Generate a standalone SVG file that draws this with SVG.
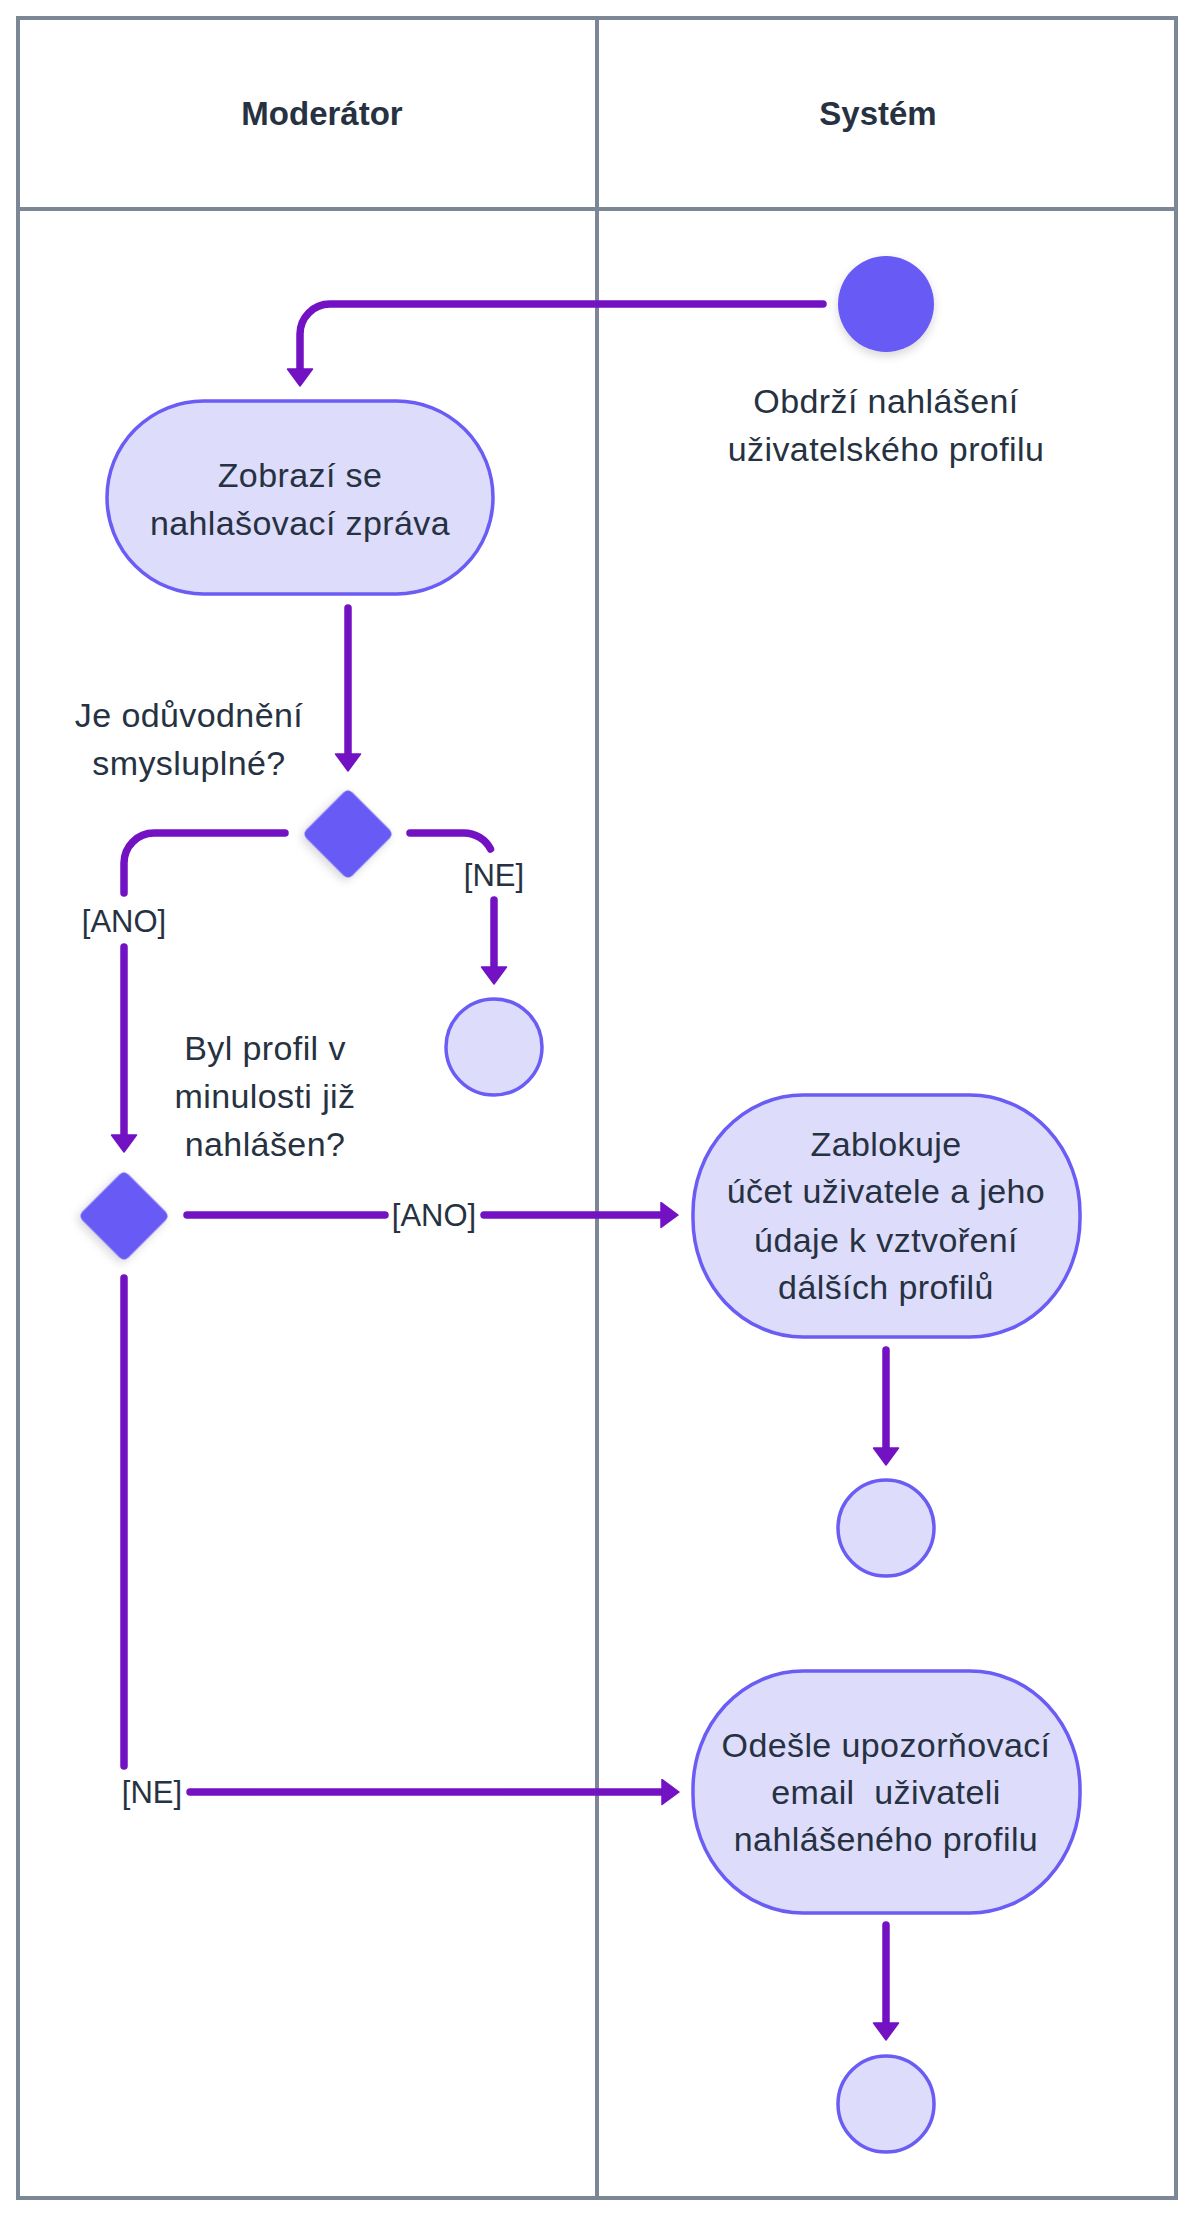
<svg xmlns="http://www.w3.org/2000/svg" width="1194" height="2218" viewBox="0 0 1194 2218">
  <style>
    .lane { fill: none; stroke: #7b8795; stroke-width: 4; }
    .hdr { font-family: "Liberation Sans", Arial, sans-serif; font-size: 33px; font-weight: bold; fill: #263241; text-anchor: middle; }
    .t { font-family: "Liberation Sans", Arial, sans-serif; font-size: 34px; letter-spacing: 0.4px; fill: #263241; text-anchor: middle; }
    .lbl { font-family: "Liberation Sans", Arial, sans-serif; font-size: 31px; fill: #263241; text-anchor: middle; }
    .act { fill: #dedcfb; stroke: #6a5cf5; stroke-width: 3.5; }
    .end { fill: #dedcfb; stroke: #6a5cf5; stroke-width: 3.5; }
    .solid { fill: #675af5; }
    .edge { fill: none; stroke: #7312c3; stroke-width: 7.5; stroke-linecap: round; }
    .arrow { marker-end: url(#ah); }
  </style>
  <defs>
    <marker id="ah" markerUnits="userSpaceOnUse" markerWidth="20" markerHeight="28" viewBox="-1 -1 20 28" refX="1" refY="12.5" orient="auto">
      <path d="M0,0 L17,12.5 L0,25 Z" fill="#7312c3" stroke="#7312c3" stroke-width="1.5" stroke-linejoin="round"/>
    </marker>
    <filter id="sh" x="-30%" y="-30%" width="160%" height="170%">
      <feDropShadow dx="0" dy="4" stdDeviation="5" flood-color="#000000" flood-opacity="0.16"/>
    </filter>
  </defs>

  <rect width="1194" height="2218" fill="#ffffff"/>

  <g id="lanes">
    <rect class="lane" x="18" y="18" width="1158" height="2180"/>
    <line class="lane" x1="597" y1="18" x2="597" y2="2198"/>
    <line class="lane" x1="18" y1="209" x2="1176" y2="209"/>
    <text class="hdr" x="322" y="125">Moderátor</text>
    <text class="hdr" x="878" y="125">Systém</text>
  </g>

  <g id="connectors">
    <path class="edge arrow" d="M823,304 H330 A30,30 0 0 0 300,334 V370"/>
    <path class="edge arrow" d="M348,608 V755"/>
    <path class="edge" d="M285,833 H154 A30,30 0 0 0 124,863 V893"/>
    <text class="lbl" x="124" y="932">[ANO]</text>
    <path class="edge arrow" d="M124,947 V1136"/>
    <path class="edge" d="M410,833 H464 A30,30 0 0 1 490.5,849"/>
    <text class="lbl" x="494" y="886">[NE]</text>
    <path class="edge arrow" d="M494,900 V968"/>
    <path class="edge" d="M187,1215 H385"/>
    <text class="lbl" x="434" y="1226">[ANO]</text>
    <path class="edge arrow" d="M484,1215 H662"/>
    <path class="edge" d="M124,1278 V1766"/>
    <text class="lbl" x="152" y="1803">[NE]</text>
    <path class="edge arrow" d="M190,1792 H663"/>
    <path class="edge arrow" d="M886,1350 V1449"/>
    <path class="edge arrow" d="M886,1925 V2024"/>
  </g>

  <g id="start">
    <circle class="solid" cx="886" cy="304" r="48" filter="url(#sh)"/>
    <text class="t" x="886" y="413">Obdrží nahlášení</text>
    <text class="t" x="886" y="461">uživatelského profilu</text>
  </g>

  <g id="zobrazi">
    <rect class="act" x="107" y="401" width="386" height="193" rx="96.5" ry="96.5"/>
    <text class="t" x="300" y="487">Zobrazí se</text>
    <text class="t" x="300" y="535">nahlašovací zpráva</text>
  </g>

  <g id="decision1">
    <rect class="solid" x="315.5" y="801.5" width="65" height="65" rx="6" transform="rotate(45 348 834)" filter="url(#sh)"/>
    <text class="t" x="189" y="727">Je odůvodnění</text>
    <text class="t" x="189" y="775">smysluplné?</text>
  </g>

  <g id="end1">
    <circle class="end" cx="494" cy="1047" r="48"/>
  </g>

  <g id="decision2">
    <rect class="solid" x="91.5" y="1183.5" width="65" height="65" rx="6" transform="rotate(45 124 1216)" filter="url(#sh)"/>
    <text class="t" x="265" y="1060">Byl profil v</text>
    <text class="t" x="265" y="1108">minulosti již</text>
    <text class="t" x="265" y="1156">nahlášen?</text>
  </g>

  <g id="zablokuje">
    <rect class="act" x="693" y="1095" width="387" height="242" rx="110" ry="118"/>
    <text class="t" x="886" y="1156">Zablokuje</text>
    <text class="t" x="886" y="1203">účet uživatele a jeho</text>
    <text class="t" x="886" y="1252">údaje k vztvoření</text>
    <text class="t" x="886" y="1299">dálších profilů</text>
  </g>

  <g id="end2">
    <circle class="end" cx="886" cy="1528" r="48"/>
  </g>

  <g id="odesle">
    <rect class="act" x="693" y="1671" width="387" height="242" rx="110" ry="118"/>
    <text class="t" x="886" y="1757">Odešle upozorňovací</text>
    <text class="t" x="886" y="1804">email&#160; uživateli</text>
    <text class="t" x="886" y="1851">nahlášeného profilu</text>
  </g>

  <g id="end3">
    <circle class="end" cx="886" cy="2104" r="48"/>
  </g>
</svg>
